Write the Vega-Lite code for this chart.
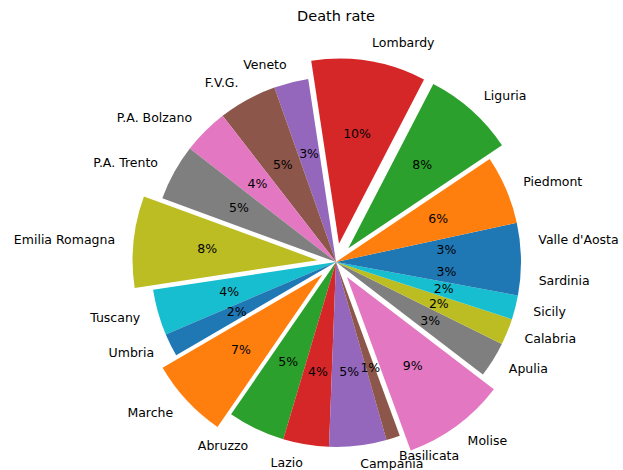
{
  "$schema": "https://vega.github.io/schema/vega-lite/v6.json",
  "autosize": {"type": "none"},
  "width": 576,
  "height": 416,
  "padding": {"left": 48, "top": 54, "right": 0, "bottom": 0},
  "background": "white",
  "title": {"text": "Death rate", "font": "DejaVu Sans", "fontSize": 14.5, "fontWeight": "normal", "color": "#000000", "frame": "group", "anchor": "middle", "offset": 1, "baseline": "alphabetic"},
  "config": {"view": {"stroke": null}},
  "data": {"values": [
    {"region": "Valle d'Aosta", "rate": 0.034},
    {"region": "Piedmont", "rate": 0.060},
    {"region": "Liguria", "rate": 0.080},
    {"region": "Lombardy", "rate": 0.100},
    {"region": "Veneto", "rate": 0.030},
    {"region": "F.V.G.", "rate": 0.051},
    {"region": "P.A. Bolzano", "rate": 0.040},
    {"region": "P.A. Trento", "rate": 0.049},
    {"region": "Emilia Romagna", "rate": 0.080},
    {"region": "Tuscany", "rate": 0.040},
    {"region": "Umbria", "rate": 0.020},
    {"region": "Marche", "rate": 0.070},
    {"region": "Abruzzo", "rate": 0.050},
    {"region": "Lazio", "rate": 0.040},
    {"region": "Campania", "rate": 0.050},
    {"region": "Basilicata", "rate": 0.012},
    {"region": "Molise", "rate": 0.090},
    {"region": "Apulia", "rate": 0.031},
    {"region": "Calabria", "rate": 0.023},
    {"region": "Sicily", "rate": 0.021},
    {"region": "Sardinia", "rate": 0.029}
  ]},
  "transform": [{"window": [{"op": "row_number", "as": "idx"}]}],
  "encoding": {
    "theta": {"field": "rate", "type": "quantitative", "stack": true, "scale": {"range": [7.853981634, 1.570796327]}},
    "order": {"field": "idx", "type": "quantitative"},
    "color": {"field": "region", "type": "nominal", "legend": null, "scale": {
      "domain": ["Valle d'Aosta", "Piedmont", "Liguria", "Lombardy", "Veneto", "F.V.G.", "P.A. Bolzano", "P.A. Trento", "Emilia Romagna", "Tuscany", "Umbria", "Marche", "Abruzzo", "Lazio", "Campania", "Basilicata", "Molise", "Apulia", "Calabria", "Sicily", "Sardinia"],
      "range": ["#1f77b4", "#ff7f0e", "#2ca02c", "#d62728", "#9467bd", "#8c564b", "#e377c2", "#7f7f7f", "#bcbd22", "#17becf", "#1f77b4", "#ff7f0e", "#2ca02c", "#d62728", "#9467bd", "#8c564b", "#e377c2", "#7f7f7f", "#bcbd22", "#17becf", "#1f77b4"]}}
  },
  "layer": [
    {
      "mark": {"type": "arc", "outerRadius": 185,
        "xOffset": {"expr": "(indexof(['Liguria','Lombardy','Emilia Romagna','Marche','Molise'], datum.region) >= 0 ? 18.5 : 0) * sin((scale('theta', datum.rate_start) + scale('theta', datum.rate_end)) / 2)"},
        "yOffset": {"expr": "-(indexof(['Liguria','Lombardy','Emilia Romagna','Marche','Molise'], datum.region) >= 0 ? 18.5 : 0) * cos((scale('theta', datum.rate_start) + scale('theta', datum.rate_end)) / 2)"}},
      "encoding": {}
    },
    {
      "mark": {"type": "text", "radius": 111, "font": "DejaVu Sans", "fontSize": 12.5, "baseline": "middle", "align": "center",
        "xOffset": {"expr": "(indexof(['Liguria','Lombardy','Emilia Romagna','Marche','Molise'], datum.region) >= 0 ? 18.5 : 0) * sin((scale('theta', datum.rate_start) + scale('theta', datum.rate_end)) / 2)"},
        "yOffset": {"expr": "-(indexof(['Liguria','Lombardy','Emilia Romagna','Marche','Molise'], datum.region) >= 0 ? 18.5 : 0) * cos((scale('theta', datum.rate_start) + scale('theta', datum.rate_end)) / 2)"}},
      "encoding": {"text": {"field": "rate", "type": "quantitative", "format": ".0%"}, "color": {"value": "#000000"}}
    },
    {
      "mark": {"type": "text", "radius": 203.5, "font": "DejaVu Sans", "fontSize": 12.5, "baseline": "middle",
        "align": {"expr": "sin((scale('theta', datum.rate_start) + scale('theta', datum.rate_end)) / 2) >= 0 ? 'left' : 'right'"},
        "xOffset": {"expr": "(indexof(['Liguria','Lombardy','Emilia Romagna','Marche','Molise'], datum.region) >= 0 ? 18.5 : 0) * sin((scale('theta', datum.rate_start) + scale('theta', datum.rate_end)) / 2)"},
        "yOffset": {"expr": "-(indexof(['Liguria','Lombardy','Emilia Romagna','Marche','Molise'], datum.region) >= 0 ? 18.5 : 0) * cos((scale('theta', datum.rate_start) + scale('theta', datum.rate_end)) / 2)"}},
      "encoding": {"text": {"field": "region", "type": "nominal"}, "color": {"value": "#000000"}}
    }
  ]
}
